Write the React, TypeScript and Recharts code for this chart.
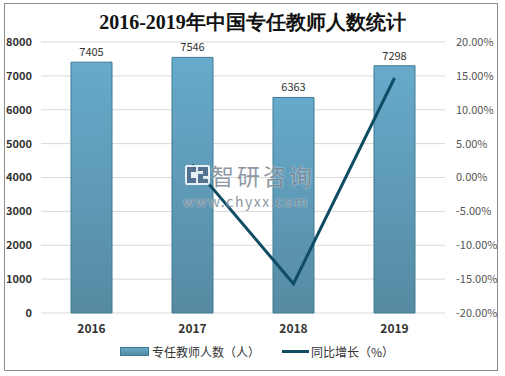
import { Bar, ComposedChart, LabelList, Line, XAxis, YAxis, CartesianGrid } from 'recharts';

const years = ['2016', '2017', '2018', '2019'];
const teachers = [7405, 7546, 6363, 7298];
const growth = [null, 1.9, -15.68, 14.69];
const leftTicks = [0, 1000, 2000, 3000, 4000, 5000, 6000, 7000, 8000];
const rightTicks = [-20, -15, -10, -5, 0, 5, 10, 15, 20];

const data = years.map((year, i) => ({ year, teachers: teachers[i], growth: growth[i] }));

const FONT = '"Noto Sans CJK SC", "DejaVu Sans", sans-serif';
const BAR_BORDER = '#3f7a93';
const LINE_COLOR = '#0e4d63';
const MARK = '#7a8794';

export default function App() {
  return (
    <div style={{ position: 'absolute', left: 0, top: 0, width: 505, height: 376, background: '#fff', fontFamily: FONT }}>
      {/* outer frame */}
      <div style={{ position: 'absolute', left: 4, top: 3, width: 492, height: 366, border: '1px solid #8c8c8c' }} />
      <div
        style={{
          position: 'absolute', left: 0, width: 505, top: 9, textAlign: 'center',
          fontFamily: 'serif', fontWeight: 'bold', fontSize: 20, color: '#111',
        }}
      >
        2016-2019年中国专任教师人数统计
      </div>
      <ComposedChart
        width={505}
        height={376}
        data={data}
        margin={{ top: 42, right: 0, left: 0, bottom: 0 }}
        style={{ position: 'absolute', left: 0, top: 0 }}
      >
        <defs>
          <linearGradient id="barFill" x1="0" y1="0" x2="0" y2="1">
            <stop offset="0%" stopColor="#67aacb" />
            <stop offset="100%" stopColor="#568aa2" />
          </linearGradient>
        </defs>
        <CartesianGrid vertical={false} stroke="#d9d9d9" yAxisId="left" />
        <XAxis
          dataKey="year"
          axisLine={false}
          tickLine={false}
          tickSize={0}
          tickMargin={11}
          height={63}
          tick={{ fontSize: 12, fontWeight: 'bold', fill: '#333', fontFamily: FONT }}
        />
        <YAxis
          yAxisId="left"
          width={41}
          domain={[0, 8000]}
          ticks={leftTicks}
          axisLine={false}
          tickLine={false}
          tickSize={0}
          tickMargin={9}
          tick={{ fontSize: 11, fontWeight: 'bold', fill: '#333', fontFamily: FONT }}
        />
        <YAxis
          yAxisId="right"
          orientation="right"
          width={60}
          domain={[-20, 20]}
          ticks={rightTicks}
          axisLine={false}
          tickLine={false}
          tickSize={0}
          tickMargin={11}
          tickFormatter={(v: number) => `${v.toFixed(2)}%`}
          tick={{ fontSize: 11, fill: '#555', fontFamily: FONT }}
        />
        <Bar
          yAxisId="left"
          dataKey="teachers"
          barSize={41}
          fill="url(#barFill)"
          stroke={BAR_BORDER}
          strokeWidth={1}
          isAnimationActive={false}
        >
          <LabelList dataKey="teachers" position="top" offset={6} style={{ fontSize: 11, fill: '#333', fontFamily: FONT }} />
        </Bar>
        <Line
          yAxisId="right"
          dataKey="growth"
          stroke={LINE_COLOR}
          strokeWidth={3}
          dot={false}
          activeDot={false}
          connectNulls={false}
          isAnimationActive={false}
        />
      </ComposedChart>
      {/* watermark */}
      <svg width={27} height={22} style={{ position: 'absolute', left: 184, top: 164 }}>
        <rect x={1} y={1} width={25} height={20} rx={2} fill="#fff" fillOpacity={0.85} />
        <path d="M3 3 H12 V8 H7 V14 H12 V19 H3 Z" fill="#53728f" />
        <path d="M14 3 H24 V12 H19 V15 H24 V19 H14 V10 H19 V7 H14 Z" fill="#53728f" />
      </svg>
      <div
        style={{
          position: 'absolute', left: 211, top: 160, fontSize: 23, lineHeight: '30px',
          color: MARK, letterSpacing: 3, opacity: 0.85, textShadow: '0 0 2px #fff',
        }}
      >
        智研咨询
      </div>
      <div
        style={{
          position: 'absolute', left: 183, top: 193, fontSize: 14, lineHeight: '16px',
          color: MARK, letterSpacing: 1.6, opacity: 0.85, textShadow: '0 0 2px #fff',
        }}
      >
        www.chyxx.com
      </div>
      {/* legend */}
      <div style={{ position: 'absolute', left: 120, top: 343, display: 'flex', alignItems: 'center', fontSize: 12, color: '#333' }}>
        <span style={{ display: 'inline-block', width: 27, height: 7, background: 'linear-gradient(#67aacb, #568aa2)', border: `1px solid ${BAR_BORDER}`, marginRight: 3 }} />
        <span>专任教师人数（人）</span>
        <span style={{ display: 'inline-block', width: 27, height: 3, background: LINE_COLOR, marginLeft: 22, marginRight: 2 }} />
        <span>同比增长（%）</span>
      </div>
    </div>
  );
}
